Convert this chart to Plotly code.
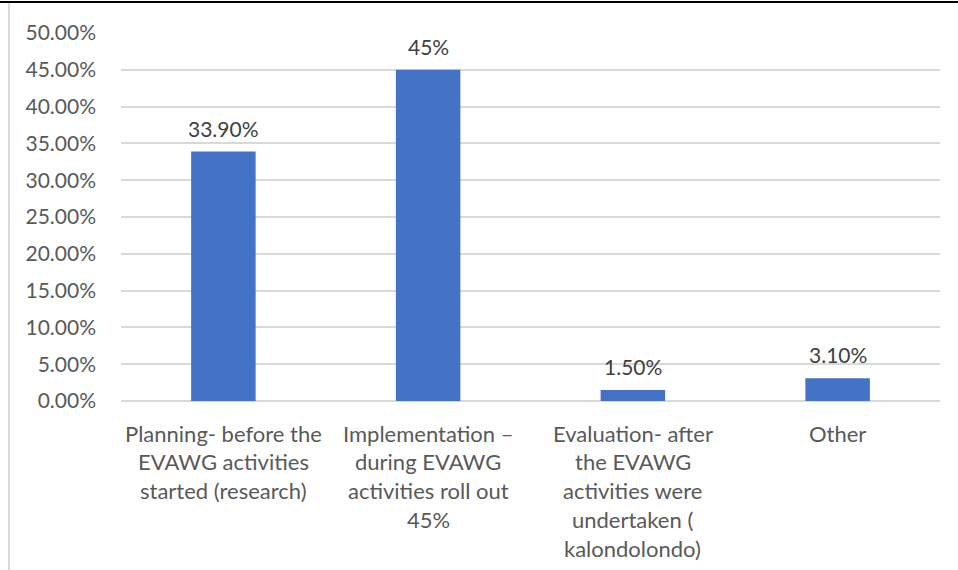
import plotly.graph_objects as go

categories = ["Planning", "Implementation", "Evaluation", "Other"]
category_lines = [
    ["Planning- before the", "EVAWG activities", "started (research)"],
    ["Implementation –", "during EVAWG", "activities roll out", "45%"],
    ["Evaluation- after", "the EVAWG", "activities were", "undertaken (", "kalondolondo)"],
    ["Other"],
]
values = [0.339, 0.45, 0.015, 0.031]
value_labels = ["33.90%", "45%", "1.50%", "3.10%"]

FONT = "Lato"
TEXT_GREY = "#595959"
LINE_STEP = 28.8

fig = go.Figure(
    go.Bar(
        x=categories,
        y=values,
        width=0.315,
        marker=dict(color="#4472c4", line=dict(width=0)),
        hoverinfo="skip",
    )
)

annotations = []
# value labels above each bar
for cat, v, lab in zip(categories, values, value_labels):
    annotations.append(
        dict(
            x=cat, xref="x", y=v, yref="y",
            yanchor="bottom", xanchor="center", yshift=9,
            text=lab, showarrow=False,
            font=dict(family=FONT, size=21, color="#404040"),
        )
    )

# multi-line category labels under each bar
for cat, lines in zip(categories, category_lines):
    for i, line in enumerate(lines):
        annotations.append(
            dict(
                x=cat, xref="x", y=0, yref="paper",
                yanchor="middle", xanchor="center",
                yshift=-(32 + i * LINE_STEP),
                text=line, showarrow=False,
                font=dict(family=FONT, size=22, color=TEXT_GREY),
            )
        )

fig.update_layout(
    width=958,
    height=570,
    margin=dict(l=121, r=18, t=33, b=169),
    paper_bgcolor="white",
    plot_bgcolor="white",
    showlegend=False,
    annotations=annotations,
    xaxis=dict(showticklabels=False, showline=False, ticks="", showgrid=False),
    yaxis=dict(
        range=[0, 0.5],
        dtick=0.05,
        tickformat=".2%",
        showgrid=True,
        gridcolor="#d9d9d9",
        gridwidth=1.5,
        zeroline=True,
        zerolinecolor="#d9d9d9",
        zerolinewidth=1.5,
        showline=False,
        ticks="",
        ticklabelstandoff=24,
        tickfont=dict(family=FONT, size=21, color=TEXT_GREY),
    ),
    shapes=[
        dict(type="line", xref="paper", yref="paper",
             x0=-121 / 819, x1=1 + 18 / 819, y0=1 + 31 / 368, y1=1 + 31 / 368,
             line=dict(color="black", width=2)),
        dict(type="line", xref="paper", yref="paper",
             x0=-112 / 819, x1=-112 / 819, y0=1 + 30 / 368, y1=-169 / 368,
             line=dict(color="#d9d9d9", width=2)),
    ],
)

fig.write_html("out.html")
